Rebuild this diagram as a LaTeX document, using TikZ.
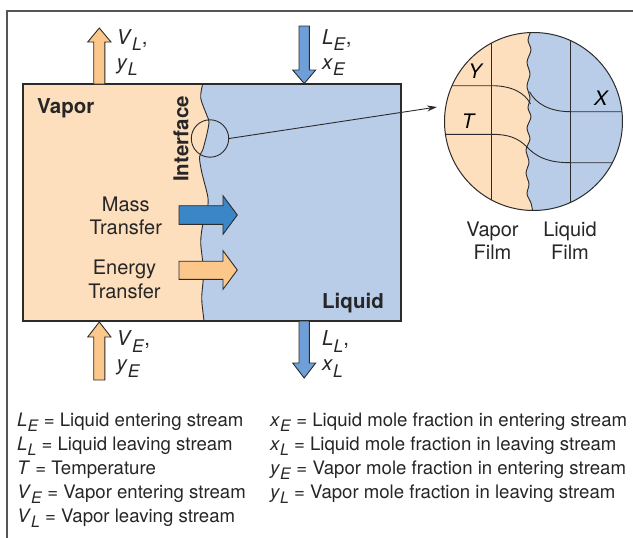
\documentclass[tikz,border=0pt]{standalone}
\usepackage{fontspec}
\setmainfont{TeX Gyre Heros}
\usepackage{graphicx}
\usetikzlibrary{arrows.meta}
\newcommand\vv[2]{\textit{#1}\raisebox{-0.3em}{\scalebox{0.85}{\textit{#2}}}}
\definecolor{vapbg}{HTML}{FDDEBD}
\definecolor{liqbg}{HTML}{B9CDE8}
\definecolor{vaparr}{HTML}{FBC78A}
\definecolor{liqarr}{HTML}{6F9FD8}
\definecolor{massarr}{HTML}{3A86C6}
\definecolor{edge}{HTML}{2B2B2B}
\definecolor{frame}{HTML}{555555}
\tikzset{
  outl/.style={draw=edge, line width=0.9pt, line join=miter},
  big/.style={font=\fontsize{20}{24}\selectfont, text=black!85, inner sep=0pt},
  bigb/.style={font=\fontsize{20.5}{24}\selectfont\bfseries, text=black!85, inner sep=0pt},
  leg/.style={font=\fontsize{18.6}{22}\selectfont, text=black!85, inner sep=0pt, anchor=base west},
  strm/.style={font=\fontsize{20.5}{25}\selectfont, text=black!85, inner sep=0pt, align=left, anchor=west},
}
\begin{document}
\begin{tikzpicture}[x=1pt,y=-1pt]
\useasboundingbox (0,0) rectangle (633,538);
% outer frame (cropped)
\draw[frame, line width=1.5pt] (7,540) -- (7,11) -- (640,11);

% main box regions
\def\iface{(202.7,84) (200.7,98) (206.7,115) (209,122) (206.7,135) (202.7,150) (199.5,157) (201.7,172) (208,198) (206.7,212) (202.7,225) (200.7,242) (202.7,262) (203.3,278) (201.7,298) (203.3,315) (204,321)}
\fill[vapbg] (23,84) -- plot[smooth] coordinates {\iface} -- (23,321) -- cycle;
\fill[liqbg] (401,84) -- plot[smooth] coordinates {\iface} -- (401,321) -- cycle;
\draw[edge, line width=0.9pt] plot[smooth] coordinates {\iface};
\draw[edge, line width=1.1pt] (23,84) rectangle (401,321);

% stream arrows
\filldraw[fill=vaparr, outl] (93.7,84) -- (93.7,42) -- (87.7,42) -- (99.3,28) -- (111,42) -- (104.8,42) -- (104.8,84) -- cycle;
\filldraw[fill=vaparr, outl] (93.7,380) -- (93.7,337) -- (87.7,337) -- (99.3,322) -- (111,337) -- (104.8,337) -- (104.8,380) -- cycle;
\filldraw[fill=liqarr, outl] (299,26) -- (299,70) -- (292.7,70) -- (304.2,83.5) -- (315.7,70) -- (309.4,70) -- (309.4,26) -- cycle;
\filldraw[fill=liqarr, outl] (299,321) -- (299,363) -- (292.7,363) -- (304.2,378) -- (315.7,363) -- (309.4,363) -- (309.4,321) -- cycle;

% transfer arrows
\filldraw[fill=massarr, outl] (179,205.7) -- (223,205.7) -- (223,195.7) -- (237.3,215) -- (223,234.3) -- (223,224.3) -- (179,224.3) -- cycle;
\filldraw[fill=vaparr, outl] (179,261.2) -- (223,261.2) -- (223,250.7) -- (237.3,270) -- (223,289.3) -- (223,279.3) -- (179,279.3) -- cycle;

% labels in box
\node[bigb, anchor=west] (vaporlbl) at (37,108) {Vapor};
\node[bigb, anchor=east] (liquidlbl) at (384,303) {Liquid};
\node[bigb, rotate=90] (ifacelbl) at (181,139) {Interface};
\node[big, align=center] (masslbl) at (125.8,216) {Mass\\[-0.5pt]Transfer};
\node[big, align=center] (energylbl) at (124.5,279.5) {Energy\\[-0.5pt]Transfer};

% stream labels
\node[strm] (vl) at (116.5,52.5) {\vv{V}{L},\\\vv{y}{L}};
\node[strm] (le) at (322,52.5) {\vv{L}{E},\\\vv{x}{E}};
\node[strm] (ve) at (116.5,354) {\vv{V}{E},\\\vv{y}{E}};
\node[strm] (ll) at (322,354) {\vv{L}{L},\\\vv{x}{L}};

% zoom circles
\node[circle, draw=edge, line width=0.9pt, minimum size=37.4pt, inner sep=0pt] (zsrc) at (210,138.5) {};
\begin{scope}
\clip (533.5,121.5) circle (89);
\def\biface{(531.5,30) (528,40) (531,50) (527,62) (530,74) (527,86) (530,98) (528,108) (531,117) (527,128) (530,139) (526,150) (529,162) (526,173) (529,184) (527,194) (531,203) (533,213)}
\fill[vapbg] (440,30) -- plot[smooth] coordinates {\biface} -- (440,213) -- cycle;
\fill[liqbg] (630,30) -- plot[smooth] coordinates {\biface} -- (630,213) -- cycle;
\draw[edge, line width=0.9pt] plot[smooth] coordinates {\biface};
\draw[edge, line width=0.9pt] (491.7,25) -- (491.7,220);
\draw[edge, line width=0.9pt] (570.7,25) -- (570.7,220);
\draw[edge, line width=0.9pt] (440,85.7) -- (491.7,85.7) .. controls (512,85.7) and (525,93) .. (530.5,104);
\draw[edge, line width=0.9pt] (529.5,91.7) .. controls (536,104) and (550,111.7) .. (570.7,111.7) -- (630,111.7);
\draw[edge, line width=0.9pt] (440,134.3) -- (491.7,134.3) .. controls (515,134.3) and (522,142) .. (530,150) .. controls (540,159) and (552,162.7) .. (570.7,162.7) -- (630,162.7);
\end{scope}
\node[circle, draw=edge, line width=1pt, minimum size=178pt, inner sep=0pt] (zdst) at (533.5,121.5) {};
\node[font=\fontsize{20}{24}\selectfont\itshape, inner sep=0pt] (ylbl) at (475,71.7) {Y};
\node[font=\fontsize{20}{24}\selectfont\itshape, inner sep=0pt] (tlbl) at (468,121.7) {T};
\node[font=\fontsize{20}{24}\selectfont\itshape, inner sep=0pt] (xlbl) at (600.7,98.3) {X};
\coordinate (ztip) at (437,107);
\draw[edge, line width=0.9pt, -{Stealth[length=10pt,width=6pt]}] (zsrc.east) -- (ztip);

\node[big, align=center] (vfilm) at (492.5,241) {Vapor\\[-1pt]Film};
\node[big, align=center] (lfilm) at (570,241) {Liquid\\[-1pt]Film};

% legend
\node[leg] (l1) at (17,426) {\vv{L}{E} = Liquid entering stream};
\node[leg] (l2) at (17,450) {\vv{L}{L} = Liquid leaving stream};
\node[leg] (l3) at (17,474) {\textit{T} = Temperature};
\node[leg] (l4) at (17,498) {\vv{V}{E} = Vapor entering stream};
\node[leg] (l5) at (17,522) {\vv{V}{L} = Vapor leaving stream};
\node[leg] (r1) at (270,426) {\vv{x}{E} = Liquid mole fraction in entering stream};
\node[leg] (r2) at (270,450) {\vv{x}{L} = Liquid mole fraction in leaving stream};
\node[leg] (r3) at (270,474) {\vv{y}{E} = Vapor mole fraction in entering stream};
\node[leg] (r4) at (270,498) {\vv{y}{L} = Vapor mole fraction in leaving stream};
\end{tikzpicture}
\end{document}
